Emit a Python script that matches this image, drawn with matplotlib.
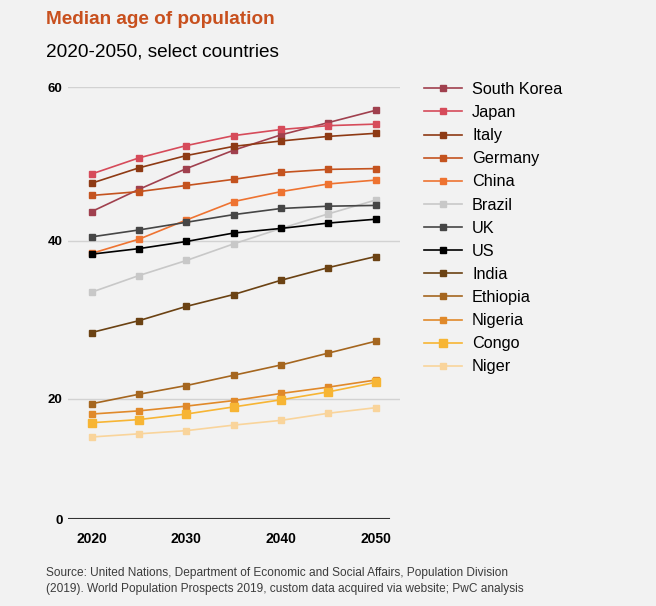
import numpy as np
import matplotlib
matplotlib.use('Agg')
from matplotlib import pyplot as plt

plt.rcParams['font.family'] = ['Liberation Sans', 'DejaVu Sans']

years = [2020, 2025, 2030, 2035, 2040, 2045, 2050]

countries = ['South Korea', 'Japan', 'Italy', 'Germany', 'China', 'Brazil', 'UK',
             'US', 'India', 'Ethiopia', 'Nigeria', 'Congo', 'Niger']

south_korea = [43.8, 46.7, 49.4, 51.8, 53.8, 55.4, 57.0]
japan = [48.7, 50.8, 52.4, 53.7, 54.5, 55.0, 55.2]
italy = [47.5, 49.5, 51.1, 52.3, 53.0, 53.6, 54.0]
germany = [45.9, 46.4, 47.2, 48.0, 48.9, 49.3, 49.4]
china = [38.4, 40.2, 42.7, 45.1, 46.4, 47.4, 47.9]
brazil = [33.5, 35.6, 37.5, 39.6, 41.6, 43.5, 45.3]
uk = [40.5, 41.4, 42.4, 43.4, 44.2, 44.5, 44.6]
us = [38.3, 39.0, 39.9, 41.0, 41.6, 42.3, 42.8]
india = [28.4, 29.9, 31.7, 33.2, 35.0, 36.6, 38.0]
ethiopia = [19.4, 20.6, 21.7, 23.0, 24.3, 25.8, 27.3]
nigeria = [18.1, 18.5, 19.1, 19.8, 20.7, 21.5, 22.4]
congo = [17.0, 17.4, 18.1, 19.0, 19.9, 20.9, 22.1]
niger = [15.2, 15.6, 16.0, 16.7, 17.3, 18.2, 18.9]

series = [south_korea, japan, italy, germany, china, brazil, uk,
          us, india, ethiopia, nigeria, congo, niger]

colors = ['#a0404e', '#d64b5a', '#8e3a14', '#c4531f', '#ee7331', '#c8c8c8', '#464646',
          '#000000', '#6b4213', '#a5661f', '#e0892a', '#f7b534', '#f9d49b']

yticks = [0, 20, 40, 60]

# the original axis is squeezed below the data (a hidden break), map it piecewise
knots_v = [0, 12, 20, 40, 60]
knots_p = [0, 57.0, 120.3, 278.6, 432]


def fwd(v):
    return np.interp(v, knots_v, knots_p)


def inv(p):
    return np.interp(p, knots_p, knots_v)


bg = '#f2f2f2'
fig = plt.figure(figsize=(6.56, 6.06), dpi=100, facecolor=bg)
ax = fig.add_axes([68 / 656, 1 - 519.3 / 606, 332 / 656, 432 / 606], facecolor=bg)

ax.set_yscale('function', functions=(fwd, inv))
ax.set_ylim(0, 60)
ax.set_xlim(2017.5, 2052.57)

for name, vals, c in zip(countries, series, colors):
    ms = 5.2 if name == 'Congo' else 4.3
    ax.plot(years, vals, color=c, lw=1.2, marker='s', ms=ms, label=name, zorder=3)

for t in yticks[1:]:
    ax.axhline(t, color='#d2d2d2', lw=1, zorder=1)
ax.axhline(0, xmax=(2051.4 - 2017.5) / (2052.57 - 2017.5), color='#333333', lw=1.5, zorder=2)

for s in ax.spines.values():
    s.set_visible(False)

ax.set_yticks(yticks)
ax.set_xticks([2020, 2030, 2040, 2050])
ax.tick_params(axis='both', length=0, labelsize=9.5)
ax.tick_params(axis='x', pad=9, labelsize=10)
ax.tick_params(axis='y', pad=4)
for lab in ax.get_xticklabels() + ax.get_yticklabels():
    lab.set_fontweight('bold')

fig.legend(loc='upper left', bbox_to_anchor=(424 / 656, 1 - 82 / 606), frameon=False,
           fontsize=11.7, handlelength=2.34, handletextpad=0.62, labelspacing=0.5,
           borderpad=0, borderaxespad=0)

fig.text(46 / 656, 1 - 19.5 / 606, 'Median age of population', color='#c8501e',
         fontsize=13.7, fontweight='bold', va='center')
fig.text(46 / 656, 1 - 52 / 606, '2020-2050, select countries', color='black',
         fontsize=13.7, va='center')
fig.text(46 / 656, 1 - 581 / 606,
         'Source: United Nations, Department of Economic and Social Affairs, Population Division\n'
         '(2019). World Population Prospects 2019, custom data acquired via website; PwC analysis',
         color='#3c3c3c', fontsize=8.6, va='center', linespacing=1.5)

fig.savefig('out.png', dpi=100, facecolor=bg)
